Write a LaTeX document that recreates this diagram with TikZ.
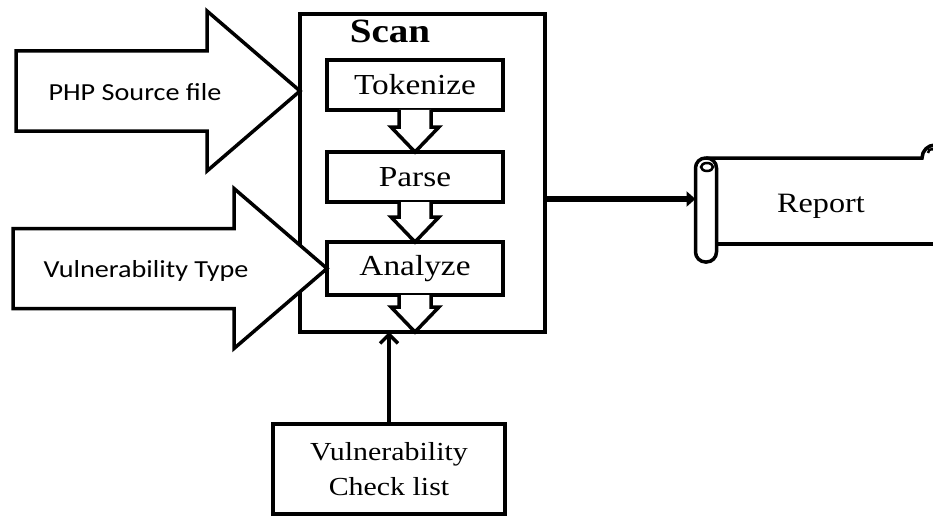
\documentclass[tikz,border=0pt]{standalone}
\usepackage{fontspec}
\setmainfont{Liberation Serif}[FakeStretch=1.15]
\newfontfamily\labelfont{Carlito}[FakeStretch=1.15]
\usetikzlibrary{positioning, arrows.meta, calc}
\tikzset{
  framebox/.style={draw, line width=3.5pt, outer sep=0pt, inner sep=0pt},
  stepbox/.style={framebox, minimum width=176pt, minimum height=50pt,
    font=\fontsize{29}{34}\selectfont},
  listbox/.style={framebox, minimum width=232pt, minimum height=90pt,
    align=center, font=\fontsize{26}{35}\selectfont},
  titletext/.style={font=\fontsize{34}{40}\selectfont\bfseries, anchor=base},
  inputtext/.style={font=\labelfont\fontsize{24.5}{28}\selectfont},
  reporttext/.style={font=\fontsize{28}{34}\selectfont, anchor=base},
  feedshape/.style={draw, fill=white, line width=3.5pt, line join=miter},
  blockshape/.style={draw, fill=white, line width=3.5pt, line join=miter},
  scrollline/.style={line width=3.5pt},
  flowarrow/.style={-{Triangle[length=9pt, width=15pt]}, line width=6pt},
  checkarrow/.style={-{Straight Barb[length=9pt, width=18pt]}, line width=3.5pt},
}
% hollow arrow pointing down: #1 tail point, #2 tip point
\newcommand{\blockdown}[2]{%
  \draw[blockshape] ($#1+(-16,0)$) -- ($#2+(-16,-25)$) -- ++(-8,0) -- #2
    -- ++(24,-25) -- ++(-8,0) -- ($#1+(16,0)$);}
% big input arrow: #1 tip point, #2 shaft length
\newcommand{\feedarrow}[2]{%
  \draw[feedshape] #1 -- ++(-93,-80) -- ++(0,40) -- ++(-#2,0) -- ++(0,80)
    -- ++(#2,0) -- ++(0,40) -- cycle;}

\begin{document}
\begin{tikzpicture}[x=1pt, y=-1pt]
  \useasboundingbox (0,0) rectangle (933,516);

  % === Scan block ===
  \node[framebox, minimum width=245pt, minimum height=318pt] (scan) at (422.5,173) {};
  \node[titletext] (scantitle) at (390,43) {Scan};

  \node[stepbox] (tok) at (415,85) {Tokenize};
  \node[stepbox, below=42pt of tok] (parse) {Parse};
  \node[stepbox, minimum height=53pt, below=40pt of parse] (ana) {Analyze};

  % hollow arrows between the steps
  \blockdown{(tok.south)}{(parse.north)}
  \blockdown{(parse.south)}{(ana.north)}
  \blockdown{(ana.south)}{(ana.south |- scan.south)}

  % === Inputs ===
  \feedarrow{(scan.west |- 0,91)}{191}
  \node[inputtext] (php) at (135,92) {PHP Source file};

  \feedarrow{(ana.west)}{221}
  \node[inputtext] (vtype) at (146,271) {Vulnerability Type};

  % === Check list ===
  \node[listbox] (chk) at (389,469) {Vulnerability\\Check list};
  \draw[checkarrow] (chk.north) -- (chk.north |- scan.south);

  % === Report scroll ===
  \node[framebox, rounded corners=10pt, minimum width=21pt, minimum height=104pt] (roll) at (706,210) {};
  \draw[line width=2.5pt] ($(roll.north)+(1,9)$) ellipse [x radius=6pt, y radius=4pt];
  \draw[scrollline] (roll.north) -- (922,158) arc[start angle=180, end angle=90, radius=13pt];
  \draw[line width=2.5pt] (928,153) arc[start angle=180, end angle=0, radius=4pt];
  \draw[scrollline] (roll.east |- 0,244) -- (933,244);
  \node[reporttext] (rep) at (821,212) {Report};

  \coordinate (repin) at ([yshift=11pt]roll.west);
  \draw[flowarrow] (scan.east |- repin) -- (repin);

\end{tikzpicture}
\end{document}
